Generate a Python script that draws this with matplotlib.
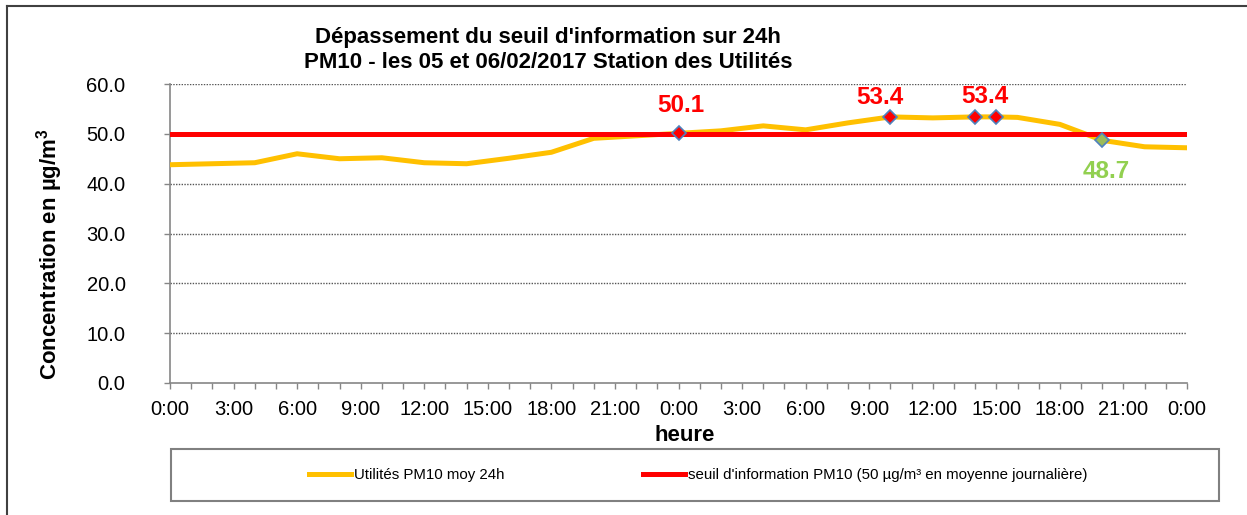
import matplotlib
matplotlib.use('Agg')
import matplotlib.pyplot as plt
from matplotlib.lines import Line2D
from matplotlib.patches import Rectangle

plt.rcParams['font.family'] = ['Liberation Sans', 'DejaVu Sans']
plt.rcParams['mathtext.fontset'] = 'custom'
plt.rcParams['mathtext.rm'] = 'Liberation Sans'
plt.rcParams['mathtext.bf'] = 'Liberation Sans:bold'

# hours since 05/02/2017 0:00, and 24h moving average PM10 (µg/m³)
hours = [0, 2, 4, 6, 8, 10, 12, 14, 16, 18, 20, 22, 24, 26, 28, 30, 32,
         34, 36, 38, 39, 40, 42, 44, 46, 48]
pm10 = [43.8, 44.0, 44.2, 46.0, 45.0, 45.2, 44.2, 44.0, 45.1, 46.3, 49.1,
        49.6, 50.1, 50.6, 51.6, 50.8, 52.2, 53.4, 53.2, 53.4, 53.4, 53.3,
        51.9, 48.7, 47.4, 47.2]
threshold = 50.0

# highlighted points
over_hours = [24, 34, 38, 39]
over_vals = [50.1, 53.4, 53.4, 53.4]
under_hours = [44]
under_vals = [48.7]

tick_hours = list(range(0, 49, 3))
tick_labels = ['0:00', '3:00', '6:00', '9:00', '12:00', '15:00', '18:00', '21:00',
               '0:00', '3:00', '6:00', '9:00', '12:00', '15:00', '18:00', '21:00', '0:00']
y_ticks = [0, 10, 20, 30, 40, 50, 60]

fig = plt.figure(figsize=(12.47, 5.15), dpi=100)
ax = fig.add_axes([170 / 1247, 1 - 383 / 515, (1187 - 170) / 1247, (383 - 84) / 515])

ax.set_xlim(0, 48)
ax.set_ylim(0, 60)

for yv in y_ticks[1:]:
    ax.axhline(yv, color='#555555', lw=1, ls=(0, (1, 1)), zorder=1)

line_pm, = ax.plot(hours, pm10, color='#FFC000', lw=3.6, zorder=3,
                   solid_joinstyle='miter')
line_thr = ax.axhline(threshold, color='#FF0000', lw=3.6, zorder=4)

ax.plot(over_hours, over_vals, ls='none', marker='D', ms=7, mfc='#FF0000',
        mec='#4F81BD', mew=1.2, zorder=5)
ax.plot(under_hours, under_vals, ls='none', marker='D', ms=7, mfc='#9BBB59',
        mec='#4F81BD', mew=1.2, zorder=5)

labels = [(24, 50.1, 2, 28, '#FF0000'), (34, 53.4, -10, 19, '#FF0000'),
          (38, 53.4, 10, 20, '#FF0000'), (44, 48.7, 4, -31, '#92D050')]
for hx, val, dx, dy, col in labels:
    ax.annotate(f'{val:.1f}', (hx, val), xytext=(dx, dy), textcoords='offset pixels',
                ha='center', va='center', fontsize=17.5, fontweight='bold',
                color=col, zorder=6)

ax.set_xticks(tick_hours)
ax.set_xticklabels(tick_labels, fontsize=14.5)
ax.set_xticks(range(0, 49), minor=True)
ax.set_yticks(y_ticks)
ax.set_yticklabels([f'{v:.1f}' for v in y_ticks], fontsize=14.5)
ax.tick_params(axis='both', which='both', direction='out', length=4,
               color='#868686', width=1)
ax.tick_params(axis='x', pad=8)
ax.tick_params(axis='y', pad=28)

for s in ['top', 'right']:
    ax.spines[s].set_visible(False)
for s in ['left', 'bottom']:
    ax.spines[s].set_color('#868686')
    ax.spines[s].set_linewidth(1.2)

ax.set_xlabel('heure', fontsize=16, fontweight='bold')
ax.xaxis.set_label_coords(0.506, -0.174)
ax.set_ylabel(r'Concentration en µg/m$^{\mathbf{3}}$', fontsize=16, fontweight='bold')
ax.yaxis.set_label_coords(-0.118, 0.431)
ax.yaxis.label.set_va('center')
ax.xaxis.label.set_va('center')

fig.text(548 / 1247, 1 - 38 / 515, "Dépassement du seuil d'information sur 24h",
         ha='center', va='center', fontsize=16, fontweight='bold')
fig.text(548 / 1247, 1 - 62 / 515, "PM10 - les 05 et 06/02/2017 Station des Utilités",
         ha='center', va='center', fontsize=16, fontweight='bold')

# legend box
fig.add_artist(Rectangle((171 / 1247, 1 - 501 / 515), (1219 - 171) / 1247, 52 / 515,
                         transform=fig.transFigure, fill=False, ec='#808080', lw=1.5))
fig.legend([line_pm, line_thr],
           ['Utilités PM10 moy 24h',
            "seuil d'information PM10 (50 µg/m³ en moyenne journalière)"],
           loc='center', bbox_to_anchor=(698 / 1247, 1 - 475 / 515), ncol=2,
           frameon=False, fontsize=10.8, handlelength=2.8, handletextpad=0.2,
           columnspacing=9.2)

# outer chart border
fig.add_artist(Line2D([7 / 1247, 1], [1 - 6 / 515, 1 - 6 / 515], transform=fig.transFigure,
                      color='#404040', lw=1.5))
fig.add_artist(Line2D([7 / 1247, 7 / 1247], [0, 1 - 6 / 515], transform=fig.transFigure,
                      color='#404040', lw=1.5))

fig.savefig('out.png', dpi=100)
